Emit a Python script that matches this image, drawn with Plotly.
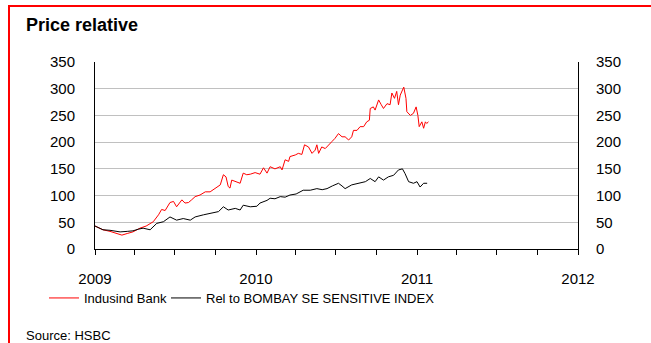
import plotly.graph_objects as go

# Indusind Bank price relative (rebased)
bank_dates = [
    "2009-01-01", "2009-01-10", "2009-01-19", "2009-02-04", "2009-02-18", "2009-03-03", "2009-03-15",
    "2009-03-28", "2009-04-13", "2009-04-27", "2009-05-13", "2009-05-25", "2009-06-01", "2009-06-09",
    "2009-06-20", "2009-06-28", "2009-07-05", "2009-07-17", "2009-07-24", "2009-08-01", "2009-08-08",
    "2009-08-16", "2009-08-27", "2009-09-08", "2009-09-19", "2009-09-30", "2009-10-12", "2009-10-19",
    "2009-10-25", "2009-10-30", "2009-11-03", "2009-11-07", "2009-11-18", "2009-11-26", "2009-12-03",
    "2009-12-11", "2009-12-19", "2009-12-30", "2010-01-10", "2010-01-18", "2010-01-26", "2010-02-02",
    "2010-02-13", "2010-02-25", "2010-03-01", "2010-03-08", "2010-03-16", "2010-03-19", "2010-03-31",
    "2010-04-07", "2010-04-15", "2010-04-21", "2010-04-30", "2010-05-08", "2010-05-15", "2010-05-19",
    "2010-05-23", "2010-05-30", "2010-06-07", "2010-06-14", "2010-06-22", "2010-06-29", "2010-07-07",
    "2010-07-15", "2010-07-22", "2010-07-30", "2010-08-06", "2010-08-10", "2010-08-18", "2010-08-25",
    "2010-09-02", "2010-09-09", "2010-09-15", "2010-09-17", "2010-09-24", "2010-09-28", "2010-10-06",
    "2010-10-12", "2010-10-17", "2010-10-25", "2010-11-01", "2010-11-05", "2010-11-11", "2010-11-16",
    "2010-11-20", "2010-11-24", "2010-11-29", "2010-12-02", "2010-12-07", "2010-12-09", "2010-12-17",
    "2010-12-24", "2010-12-30", "2011-01-03", "2011-01-06", "2011-01-12", "2011-01-16", "2011-01-20",
    "2011-01-23", "2011-01-27",
]
bank_values = [
    43, 39, 36, 33, 30, 26, 29,
    32, 39, 43, 51, 64, 74, 72,
    87, 89, 79, 92, 86, 87, 92,
    98, 101, 107, 107, 114, 120, 139,
    135, 117, 114, 129, 126, 123, 142,
    139, 140, 143, 140, 152, 142, 154,
    150, 154, 148, 167, 164, 173, 176,
    179, 177, 195, 191, 179, 185, 195,
    179, 191, 188, 195, 201, 207, 216,
    210, 210, 204, 210, 222, 222, 229,
    229, 238, 241, 263, 266, 260, 279,
    270, 263, 272, 270, 292, 282, 295,
    270, 288, 298, 303, 282, 257, 250,
    254, 266, 250, 229, 238, 226, 238,
    235, 238,
]

# Relative to BOMBAY SE SENSITIVE INDEX
rel_dates = [
    "2009-01-01", "2009-01-19", "2009-02-04", "2009-02-27", "2009-03-15", "2009-03-28", "2009-04-09",
    "2009-04-20", "2009-05-06", "2009-05-21", "2009-06-05", "2009-06-20", "2009-07-05", "2009-07-20",
    "2009-08-05", "2009-08-16", "2009-09-04", "2009-09-23", "2009-10-08", "2009-10-19", "2009-10-30",
    "2009-11-15", "2009-11-26", "2009-12-03", "2009-12-19", "2010-01-03", "2010-01-10", "2010-01-26",
    "2010-02-02", "2010-02-13", "2010-02-25", "2010-03-08", "2010-03-19", "2010-04-02", "2010-04-18",
    "2010-05-04", "2010-05-19", "2010-05-31", "2010-06-11", "2010-06-23", "2010-07-07", "2010-07-15",
    "2010-07-22", "2010-08-06", "2010-08-21", "2010-09-06", "2010-09-17", "2010-09-28", "2010-10-06",
    "2010-10-17", "2010-10-28", "2010-11-09", "2010-11-20", "2010-11-29", "2010-12-05", "2010-12-13",
    "2010-12-24", "2011-01-01", "2011-01-08", "2011-01-16", "2011-01-24",
]
rel_values = [
    43, 36, 35, 32, 33, 34, 37,
    39, 36, 48, 51, 60, 54, 57,
    54, 60, 64, 67, 70, 79, 73,
    76, 73, 82, 79, 80, 86, 91,
    95, 94, 98, 97, 101, 103, 110,
    110, 113, 111, 113, 118, 123, 118,
    113, 120, 123, 126, 132, 126, 135,
    129, 135, 138, 148, 150, 141, 126,
    123, 126, 116, 123, 123,
]

year_ticks = ["2009-01-01", "2010-01-01", "2011-01-01", "2012-01-01"]
year_labels = ["2009", "2010", "2011", "2012"]

FONT = "Liberation Sans, Arial, sans-serif"

fig = go.Figure()
fig.add_trace(go.Scatter(x=bank_dates, y=bank_values, mode="lines", name="Indusind Bank",
                         line=dict(color="#ff0000", width=1), legend="legend"))
fig.add_trace(go.Scatter(x=rel_dates, y=rel_values, mode="lines", name="Rel to BOMBAY SE SENSITIVE INDEX",
                         line=dict(color="#000000", width=1), yaxis="y2", legend="legend2"))

L, R, T, B = 95, 73, 62, 94
W, H = 651, 343
pw, ph = W - L - R, H - T - B

def px(x):
    return (x - L) / pw

def py(y):
    return (H - B - y) / ph

legend_common = dict(
    orientation="h", xanchor="left", yanchor="middle",
    font=dict(size=13, family=FONT), bgcolor="rgba(0,0,0,0)",
    itemwidth=30, tracegroupgap=0,
)

fig.update_layout(
    width=W, height=H,
    margin=dict(l=L, r=R, t=T, b=B, pad=0),
    paper_bgcolor="white", plot_bgcolor="white",
    font=dict(family=FONT, size=15, color="#000000"),
    xaxis=dict(
        type="date", range=["2009-01-01", "2012-01-01"],
        tickvals=year_ticks, ticktext=year_labels,
        ticks="outside", ticklen=5, tickcolor="#000000", tickwidth=1,
        minor=dict(dtick="M3", ticks="outside", ticklen=5, tickcolor="#000000", tickwidth=1, showgrid=False),
        showline=True, linecolor="#000000", linewidth=1,
        showgrid=False, zeroline=False,
        ticklabelstandoff=11,
        tickfont=dict(size=15),
    ),
    yaxis=dict(
        range=[0, 350], dtick=50, tick0=0,
        showline=True, linecolor="#000000", linewidth=1,
        showgrid=True, gridcolor="#c0c0c0", gridwidth=1,
        zeroline=False, ticks="", ticklabelstandoff=16,
        tickfont=dict(size=15),
    ),
    yaxis2=dict(
        range=[0, 350], dtick=50, tick0=0, overlaying="y", side="right",
        showline=True, linecolor="#000000", linewidth=1,
        showgrid=False, zeroline=False, ticks="", ticklabelstandoff=14,
        tickfont=dict(size=15),
    ),
    showlegend=True,
    legend=dict(x=px(44), y=py(298), **legend_common),
    legend2=dict(x=px(166), y=py(298), **legend_common),
    annotations=[
        dict(text="<b>Price relative</b>", xref="paper", yref="paper", x=px(24), y=py(25),
             xanchor="left", yanchor="middle", showarrow=False, font=dict(size=18, family=FONT)),
        dict(text="Source: HSBC", xref="paper", yref="paper", x=px(24), y=py(335),
             xanchor="left", yanchor="middle", showarrow=False, font=dict(size=13, family=FONT)),
    ],
    shapes=[
        dict(type="line", xref="paper", yref="paper", x0=px(8), x1=px(651), y0=py(6), y1=py(6),
             line=dict(color="#ff0000", width=2)),
        dict(type="line", xref="paper", yref="paper", x0=px(9), x1=px(9), y0=py(5), y1=py(343),
             line=dict(color="#ff0000", width=2)),
    ],
)

fig.write_html("out.html")
